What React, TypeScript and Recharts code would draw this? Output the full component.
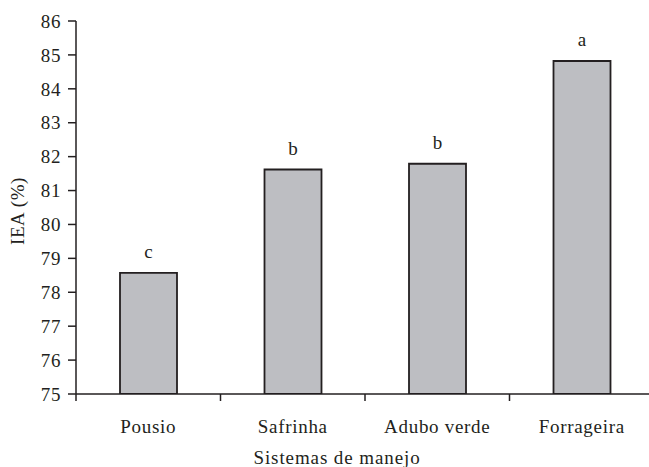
import React from 'react';
import { BarChart, Bar, XAxis, YAxis, LabelList, Label } from 'recharts';

const categories = ['Pousio', 'Safrinha', 'Adubo verde', 'Forrageira'];
const iea = [78.57, 81.62, 81.79, 84.82];
const letters = ['c', 'b', 'b', 'a'];
const yTicks = [75, 76, 77, 78, 79, 80, 81, 82, 83, 84, 85, 86];

const data = categories.map((name, i) => ({ name, iea: iea[i], letter: letters[i] }));

const W = 660;
const H = 467;
const MARGIN = { top: 21, right: 6, left: 0, bottom: 0 };
const Y_AXIS_W = 76;
const X_AXIS_H = 73;
const AXIS_Y = H - MARGIN.bottom - X_AXIS_H;
const STEP = (W - MARGIN.right - MARGIN.left - Y_AXIS_W) / categories.length;
const INK = '#231f20';
const FONT = '"Liberation Serif", "Times New Roman", serif';

const CategoryTick = (props: any) => {
  const { x, payload, index } = props;
  return (
    <g>
      <text
        x={x}
        y={AXIS_Y + 39}
        textAnchor="middle"
        fill={INK}
        fontSize={19}
        fontFamily={FONT}
        letterSpacing={0.7}
      >
        {payload.value}
      </text>
      <line x1={x + STEP / 2} x2={x + STEP / 2} y1={AXIS_Y} y2={AXIS_Y + 7} stroke={INK} strokeWidth={1.5} />
      {index === 0 && (
        <line x1={x - STEP / 2} x2={x - STEP / 2} y1={AXIS_Y} y2={AXIS_Y + 7} stroke={INK} strokeWidth={1.5} />
      )}
    </g>
  );
};

export default function App() {
  return (
    <div style={{ position: 'absolute', left: 0, top: 0, width: 649, height: 467, overflow: 'hidden', background: '#fff' }}>
      <BarChart width={W} height={H} data={data} margin={MARGIN} style={{ fontFamily: FONT }}>
        <XAxis
          dataKey="name"
          height={X_AXIS_H}
          axisLine={{ stroke: INK, strokeWidth: 1.5 }}
          tickLine={false}
          tick={<CategoryTick />}
          interval={0}
        >
          <Label
            content={() => (
              <text x={337} y={H - 3} textAnchor="middle" fill={INK} fontSize={19} fontFamily={FONT} letterSpacing={0.9}>
                Sistemas de manejo
              </text>
            )}
          />
        </XAxis>
        <YAxis
          domain={[75, 86]}
          ticks={yTicks}
          interval={0}
          width={Y_AXIS_W}
          axisLine={{ stroke: INK, strokeWidth: 1.5 }}
          tickLine={{ stroke: INK, strokeWidth: 1.5 }}
          tickSize={8}
          tickMargin={7}
          tick={{ fill: INK, fontSize: 19, fontFamily: FONT, letterSpacing: 0.6 }}
          allowDataOverflow
        >
          <Label
            content={() => (
              <text
                x={0}
                y={0}
                transform={`translate(24, 211) rotate(-90)`}
                textAnchor="middle"
                fill={INK}
                fontSize={19}
                fontFamily={FONT}
                letterSpacing={0.6}
              >
                IEA (%)
              </text>
            )}
          />
        </YAxis>
        <Bar dataKey="iea" fill="#bdbec2" stroke={INK} strokeWidth={1.8} barSize={57} isAnimationActive={false}>
          <LabelList dataKey="letter" position="top" offset={15} fill={INK} fontSize={19} fontFamily={FONT} />
        </Bar>
      </BarChart>
    </div>
  );
}
